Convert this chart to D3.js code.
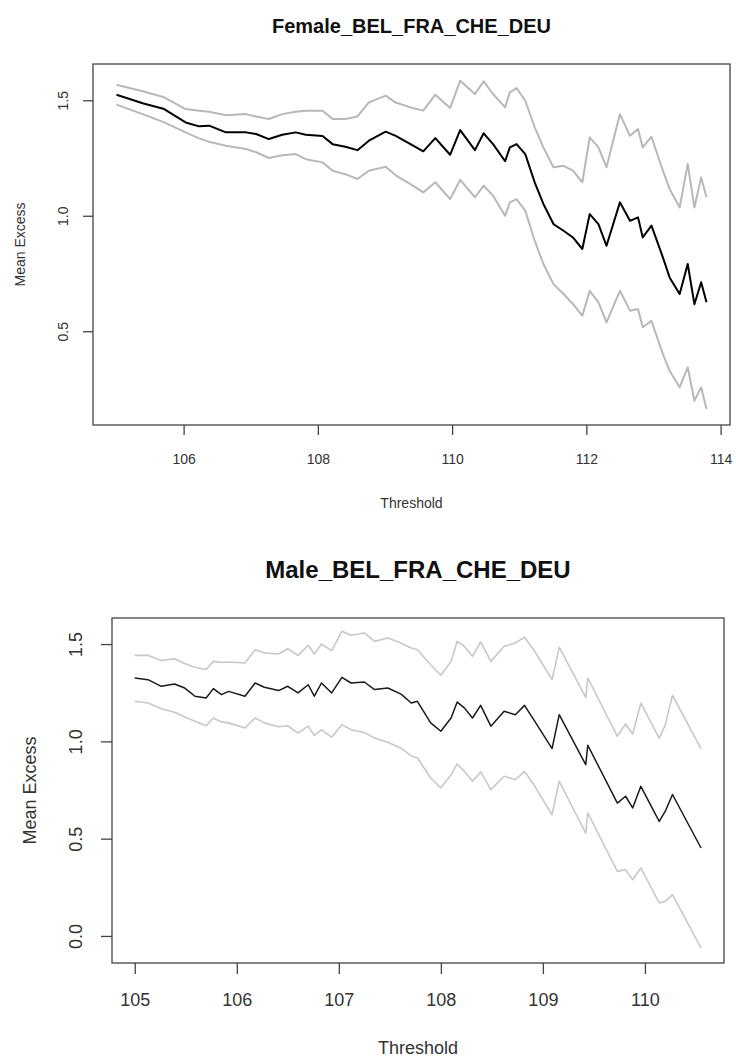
<!DOCTYPE html>
<html>
<head>
<meta charset="utf-8">
<script src="https://cdn.jsdelivr.net/npm/d3@7"></script>
<style>
  body { margin: 0; background: #fff; }
  text { font-family: "Liberation Sans", Arial, sans-serif; }
</style>
</head>
<body>
<div id="canvas"></div>
<script>
// Female panel
const femaleThreshold = [105.00, 105.39, 105.71, 106.03, 106.23, 106.38, 106.63, 106.93, 107.08, 107.27,
  107.47, 107.67, 107.82, 108.07, 108.22, 108.41, 108.59, 108.76, 109.01, 109.16,
  109.38, 109.57, 109.75, 109.97, 110.12, 110.34, 110.47, 110.61, 110.79, 110.86,
  110.96, 111.09, 111.23, 111.36, 111.51, 111.66, 111.80, 111.94, 112.05, 112.18,
  112.30, 112.50, 112.65, 112.77, 112.84, 112.97, 113.14, 113.24, 113.39, 113.51,
  113.61, 113.71, 113.79];
const femaleMean = [1.524, 1.487, 1.462, 1.404, 1.387, 1.390, 1.361, 1.361, 1.354, 1.332,
  1.351, 1.361, 1.351, 1.345, 1.310, 1.299, 1.284, 1.325, 1.364, 1.346,
  1.310, 1.279, 1.336, 1.264, 1.371, 1.284, 1.357, 1.310, 1.236, 1.296,
  1.310, 1.267, 1.145, 1.051, 0.964, 0.935, 0.906, 0.856, 1.007, 0.964,
  0.870, 1.058, 0.978, 0.993, 0.906, 0.957, 0.820, 0.733, 0.661, 0.791,
  0.617, 0.712, 0.625];
const femaleUpper = [1.567, 1.539, 1.513, 1.462, 1.455, 1.450, 1.435, 1.440, 1.430, 1.419,
  1.440, 1.450, 1.455, 1.455, 1.419, 1.419, 1.430, 1.491, 1.520, 1.490,
  1.469, 1.455, 1.524, 1.466, 1.584, 1.527, 1.582, 1.527, 1.469, 1.534,
  1.553, 1.498, 1.383, 1.296, 1.210, 1.216, 1.195, 1.145, 1.339, 1.296,
  1.210, 1.440, 1.346, 1.375, 1.296, 1.342, 1.195, 1.116, 1.036, 1.224,
  1.036, 1.166, 1.080];
const femaleLower = [1.481, 1.440, 1.404, 1.361, 1.335, 1.320, 1.303, 1.289, 1.275, 1.250,
  1.262, 1.267, 1.245, 1.231, 1.195, 1.180, 1.159, 1.195, 1.212, 1.175,
  1.137, 1.101, 1.145, 1.072, 1.155, 1.080, 1.130, 1.087, 1.000, 1.058,
  1.072, 1.022, 0.892, 0.791, 0.704, 0.661, 0.618, 0.567, 0.675, 0.625,
  0.538, 0.675, 0.589, 0.596, 0.517, 0.545, 0.401, 0.329, 0.257, 0.344,
  0.199, 0.257, 0.163];
const femaleXTicks = [106, 108, 110, 112, 114];
const femaleYTicks = [0.5, 1.0, 1.5];

// Male panel
const maleThreshold = [105.00, 105.13, 105.26, 105.39, 105.49, 105.59, 105.70, 105.77, 105.85, 105.92,
  106.08, 106.18, 106.27, 106.41, 106.50, 106.60, 106.70, 106.76, 106.83, 106.93,
  107.03, 107.12, 107.25, 107.35, 107.48, 107.61, 107.71, 107.77, 107.90, 108.00,
  108.10, 108.16, 108.23, 108.31, 108.39, 108.49, 108.62, 108.73, 108.82, 108.91,
  109.09, 109.16, 109.42, 109.44, 109.73, 109.81, 109.88, 109.96, 110.14, 110.20,
  110.27, 110.55];
const maleMean = [1.326, 1.317, 1.283, 1.295, 1.274, 1.232, 1.223, 1.271, 1.240, 1.257,
  1.232, 1.300, 1.278, 1.261, 1.283, 1.249, 1.291, 1.232, 1.300, 1.249,
  1.329, 1.300, 1.305, 1.266, 1.274, 1.243, 1.197, 1.206, 1.095, 1.052,
  1.120, 1.202, 1.172, 1.120, 1.185, 1.078, 1.155, 1.137, 1.185, 1.112,
  0.963, 1.137, 0.880, 0.980, 0.683, 0.718, 0.658, 0.769, 0.589, 0.641,
  0.727, 0.452];
const maleUpper = [1.442, 1.442, 1.415, 1.425, 1.400, 1.381, 1.369, 1.411, 1.405, 1.408,
  1.403, 1.471, 1.455, 1.449, 1.476, 1.442, 1.494, 1.449, 1.500, 1.466,
  1.566, 1.545, 1.557, 1.514, 1.531, 1.505, 1.480, 1.471, 1.394, 1.340,
  1.411, 1.514, 1.489, 1.437, 1.511, 1.411, 1.489, 1.506, 1.535, 1.471,
  1.317, 1.484, 1.226, 1.326, 1.026, 1.089, 1.038, 1.197, 1.017, 1.086,
  1.237, 0.963];
const maleLower = [1.206, 1.197, 1.168, 1.150, 1.125, 1.103, 1.080, 1.120, 1.100, 1.095,
  1.069, 1.120, 1.095, 1.075, 1.080, 1.043, 1.078, 1.031, 1.060, 1.021,
  1.086, 1.060, 1.045, 1.017, 0.995, 0.965, 0.925, 0.915, 0.812, 0.761,
  0.829, 0.884, 0.846, 0.795, 0.843, 0.752, 0.821, 0.803, 0.846, 0.778,
  0.623, 0.795, 0.529, 0.632, 0.332, 0.341, 0.289, 0.350, 0.170, 0.178,
  0.212, -0.062];
const maleXTicks = [105, 106, 107, 108, 109, 110];
const maleYTicks = [0.0, 0.5, 1.0, 1.5];

const width = 736;
const height = 1061;

const svg = d3.select("#canvas").append("svg")
  .attr("width", width)
  .attr("height", height);

svg.append("rect").attr("width", width).attr("height", height).attr("fill", "#fff");

const drawPanel = (p) => {
  const x = d3.scaleLinear().domain(p.xDomain).range([p.left, p.right]);
  const y = d3.scaleLinear().domain(p.yDomain).range([p.bottom, p.top]);

  const line = d3.line()
    .x(d => x(d[0]))
    .y(d => y(d[1]));

  const series = [
    { values: p.upper, color: p.band, w: p.bandWidth },
    { values: p.lower, color: p.band, w: p.bandWidth },
    { values: p.mean, color: p.main, w: p.mainWidth }
  ];

  series.forEach(s => {
    svg.append("path")
      .datum(p.threshold.map((t, i) => [t, s.values[i]]))
      .attr("fill", "none")
      .attr("stroke", s.color)
      .attr("stroke-width", s.w)
      .attr("stroke-linejoin", "round")
      .attr("d", line);
  });

  // box
  svg.append("rect")
    .attr("x", p.left).attr("y", p.top)
    .attr("width", p.right - p.left).attr("height", p.bottom - p.top)
    .attr("fill", "none").attr("stroke", "#444").attr("stroke-width", 1.3);

  const gx = svg.append("g")
    .attr("transform", `translate(0,${p.bottom})`)
    .call(d3.axisBottom(x).tickValues(p.xTicks).tickFormat(d3.format("d"))
      .tickSize(p.tick).tickSizeOuter(0));
  gx.select(".domain").remove();
  gx.selectAll(".tick line").attr("stroke", "#444").attr("stroke-width", 1.3);
  gx.selectAll(".tick text")
    .attr("y", p.xLabelOffset).attr("dy", "0.35em")
    .attr("fill", "#333")
    .style("font-size", p.tickFont + "px")
    .style("font-family", "Liberation Sans, Arial, sans-serif");

  const gy = svg.append("g")
    .attr("transform", `translate(${p.left},0)`)
    .call(d3.axisLeft(y).tickValues(p.yTicks).tickFormat(d3.format(".1f"))
      .tickSize(p.tick).tickSizeOuter(0));
  gy.select(".domain").remove();
  gy.selectAll(".tick line").attr("stroke", "#444").attr("stroke-width", 1.3);
  gy.selectAll(".tick text")
    .attr("transform", "rotate(-90)")
    .attr("x", 0).attr("y", -p.yLabelOffset).attr("dy", "0.35em")
    .style("text-anchor", "middle")
    .attr("fill", "#333")
    .style("font-size", p.tickFont + "px")
    .style("font-family", "Liberation Sans, Arial, sans-serif");

  svg.append("text")
    .attr("x", (p.left + p.right) / 2).attr("y", p.titleY)
    .attr("text-anchor", "middle")
    .style("font-weight", "bold")
    .style("font-size", p.titleFont + "px")
    .attr("fill", "#111")
    .text(p.title);

  svg.append("text")
    .attr("x", (p.left + p.right) / 2).attr("y", p.xTitleY)
    .attr("text-anchor", "middle").attr("dy", "0.35em")
    .style("font-size", p.labelFont + "px")
    .attr("fill", "#333")
    .text("Threshold");

  svg.append("text")
    .attr("transform", `translate(${p.yTitleX},${(p.top + p.bottom) / 2}) rotate(-90)`)
    .attr("text-anchor", "middle").attr("dy", "0.35em")
    .style("font-size", p.labelFont + "px")
    .attr("fill", "#333")
    .text("Mean Excess");
};

drawPanel({
  title: "Female_BEL_FRA_CHE_DEU",
  threshold: femaleThreshold, mean: femaleMean, upper: femaleUpper, lower: femaleLower,
  xTicks: femaleXTicks, yTicks: femaleYTicks,
  xDomain: [104.65, 114.14], yDomain: [0.094, 1.657],
  left: 93, right: 730, top: 64, bottom: 425,
  tick: 10, xLabelOffset: 34, yLabelOffset: 30,
  tickFont: 14, labelFont: 14, titleFont: 20,
  titleY: 33, xTitleY: 503, yTitleX: 20,
  main: "#000", mainWidth: 2, band: "#b8b8b8", bandWidth: 2
});

drawPanel({
  title: "Male_BEL_FRA_CHE_DEU",
  threshold: maleThreshold, mean: maleMean, upper: maleUpper, lower: maleLower,
  xTicks: maleXTicks, yTicks: maleYTicks,
  xDomain: [104.777, 110.775], yDomain: [-0.139, 1.634],
  left: 112, right: 724, top: 618, bottom: 963,
  tick: 11, xLabelOffset: 37, yLabelOffset: 36,
  tickFont: 18, labelFont: 18, titleFont: 24,
  titleY: 578, xTitleY: 1048, yTitleX: 30,
  main: "#1a1a1a", mainWidth: 1.5, band: "#c8c8c8", bandWidth: 1.6
});
</script>
</body>
</html>
